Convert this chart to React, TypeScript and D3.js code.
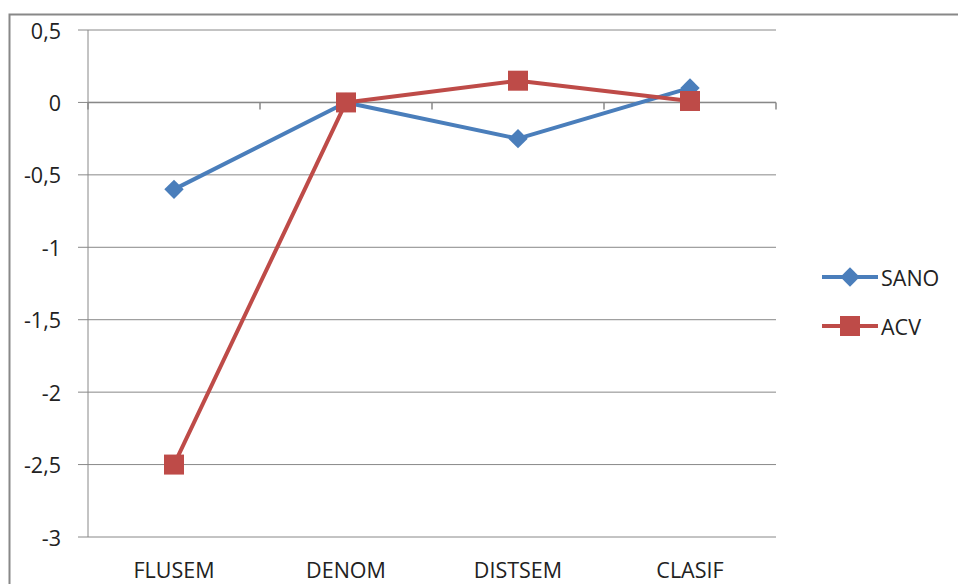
import React from "react";
import * as d3 from "d3";

const categories = ["FLUSEM", "DENOM", "DISTSEM", "CLASIF"];
const sano = [-0.6, 0, -0.25, 0.1];
const acv = [-2.5, 0, 0.15, 0.01];
const yTicks = [0.5, 0, -0.5, -1, -1.5, -2, -2.5, -3];
const seriesNames = ["SANO", "ACV"];

const W = 958, H = 584;
const plot = { left: 88, right: 776, top: 30, bottom: 537 };
const FONT = "'Open Sans', sans-serif";
const FS = 21.5;
const BLUE = "#4a7ebb";
const RED = "#be4b48";

export default function App() {
  const x = d3.scaleBand<string>().domain(categories).range([plot.left, plot.right]);
  const y = d3.scaleLinear().domain([-3, 0.5]).range([plot.bottom, plot.top]);
  const cx = (c: string) => (x(c) ?? 0) + x.bandwidth() / 2;
  const line = d3.line<number>().x((_, i) => cx(categories[i])).y((d) => y(d));
  const diamond = d3.symbol().type(d3.symbolDiamond2).size(240)();
  const boundaries = [...categories.map((c) => x(c) ?? 0), plot.right];
  const fmt = (v: number) => String(v).replace(".", ",");

  return (
    <svg width={W} height={H} style={{ position: "absolute", left: 0, top: 0, background: "#fff" }}>
      <rect x={0} y={0} width={W} height={H} fill="#fff" />
      {/* outer border */}
      <path d={`M9.5,${H} V14.5 H${W}`} fill="none" stroke="#888" strokeWidth={2} />
      {/* gridlines */}
      {yTicks.map((t) => (
        <g key={t}>
          <line x1={78} x2={plot.right} y1={y(t)} y2={y(t)} stroke="#888" strokeWidth={1} />
          <text x={61} y={y(t)} textAnchor="end" dominantBaseline="central" fontFamily={FONT} fontSize={FS} fill="#222">
            {fmt(t)}
          </text>
        </g>
      ))}
      {/* y axis */}
      <line x1={plot.left} x2={plot.left} y1={plot.top} y2={plot.bottom} stroke="#888" strokeWidth={1} />
      {/* category axis at 0 with ticks */}
      <line x1={plot.left} x2={plot.right} y1={y(0)} y2={y(0)} stroke="#888" strokeWidth={1.5} />
      {boundaries.map((b, i) => (
        <line key={i} x1={b} x2={b} y1={y(0)} y2={y(0) + 7} stroke="#888" strokeWidth={1.5} />
      ))}
      {categories.map((c) => (
        <text key={c} x={cx(c)} y={578} textAnchor="middle" fontFamily={FONT} fontSize={FS} fill="#222">
          {c}
        </text>
      ))}
      {/* series */}
      <path d={line(sano) ?? ""} fill="none" stroke={BLUE} strokeWidth={4} strokeLinejoin="round" />
      {sano.map((v, i) => (
        <path key={i} d={diamond ?? ""} transform={`translate(${cx(categories[i])},${y(v)})`} fill={BLUE} />
      ))}
      <path d={line(acv) ?? ""} fill="none" stroke={RED} strokeWidth={4} strokeLinejoin="round" />
      {acv.map((v, i) => (
        <rect key={i} x={cx(categories[i]) - 10} y={y(v) - 10} width={20} height={20} fill={RED} />
      ))}
      {/* legend */}
      {seriesNames.map((s, i) => {
        const ly = 277 + i * 49;
        const col = i === 0 ? BLUE : RED;
        return (
          <g key={s}>
            <line x1={822} x2={878} y1={ly} y2={ly} stroke={col} strokeWidth={4} />
            {i === 0 ? (
              <path d={diamond ?? ""} transform={`translate(850,${ly})`} fill={col} />
            ) : (
              <rect x={840} y={ly - 10} width={20} height={20} fill={col} />
            )}
            <text x={881} y={ly} dominantBaseline="central" fontFamily={FONT} fontSize={FS} fill="#222">
              {s}
            </text>
          </g>
        );
      })}
    </svg>
  );
}
